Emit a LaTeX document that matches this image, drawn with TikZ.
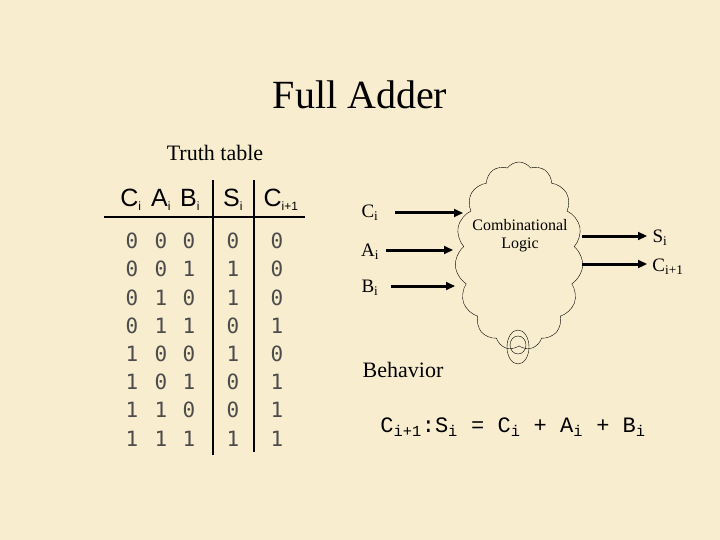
\documentclass[tikz,border=0pt]{standalone}
\usepackage{fontspec}
\setmainfont{Liberation Serif}
\newfontfamily\arial{Liberation Sans}
\newfontfamily\mono{DejaVu Sans Mono}
\newfontfamily\cour{Liberation Mono}
\usetikzlibrary{shapes.symbols,arrows.meta}
\definecolor{bg}{HTML}{F8EDCF}
\begin{document}
\begin{tikzpicture}[x=1pt,y=-1pt,
  dig/.style={font=\mono\fontsize{21}{21}\selectfont, text=black!70},
  hdr/.style={font=\arial\fontsize{25}{25}\selectfont},
  lbl/.style={font=\fontsize{19}{19}\selectfont},
  arr/.style={-{Triangle[length=9pt,width=8pt]}, line width=3pt}]
\fill[bg] (0,0) rectangle (720,540);
\useasboundingbox (0,0) rectangle (720,540);
\node[font=\fontsize{40}{40}\selectfont] (title) at (360,95) {Full Adder};
\node[font=\fontsize{22}{22}\selectfont] (tt) at (215,153) {Truth table};
% table header
\node[hdr] (hc) at (131,200) {C\textsubscript{\fontsize{12}{12}\selectfont i}};
\node[hdr] (ha) at (161,200) {A\textsubscript{\fontsize{12}{12}\selectfont i}};
\node[hdr] (hb) at (190,200) {B\textsubscript{\fontsize{12}{12}\selectfont i}};
\node[hdr] (hs) at (233,200) {S\textsubscript{\fontsize{12}{12}\selectfont i}};
\node[hdr] (hc1) at (281,200) {C\textsubscript{\fontsize{12}{12}\selectfont i+1}};
\draw[line width=2.5pt] (104,217) -- (305,217);
\draw[line width=2.5pt] (213,180) -- (213,455);
\draw[line width=1.8pt] (254,180) -- (254,452);
\foreach \r/\a/\b/\c/\s [count=\k from 0] in {0/0/0/0/0,0/0/1/1/0,0/1/0/1/0,0/1/1/0/1,1/0/0/1/0,1/0/1/0/1,1/1/0/0/1,1/1/1/1/1}{
  \pgfmathsetmacro{\yy}{241+28.2*\k}
  \node[dig] (r\k a) at (132,\yy) {\r};
  \node[dig] (r\k b) at (161,\yy) {\a};
  \node[dig] (r\k c) at (189,\yy) {\b};
  \node[dig] (r\k d) at (233,\yy) {\c};
  \node[dig] (r\k e) at (277,\yy) {\s};
}
% cloud
\node[cloud, draw, cloud puffs=15, cloud puff arc=110, aspect=0.7, minimum width=128pt, minimum height=188pt, line width=0.4pt, inner sep=0pt] (cld) at (519,256) {};
\node[font=\fontsize{16}{18}\selectfont, align=center] (cl) at (520,236) {Combinational\\Logic};
\draw[line width=0.4pt] (518,345) ellipse (8pt and 9pt);
\draw[line width=0.4pt] (518,347) ellipse (11pt and 17pt);
% inputs
\node[lbl] (ci) at (370,213) {C\textsubscript{i}};
\node[lbl] (ai) at (370,252) {A\textsubscript{i}};
\node[lbl] (bi) at (370,288) {B\textsubscript{i}};
\coordinate (ci0) at (395,213); \coordinate (ci1) at (463,213);
\coordinate (ai0) at (386,250); \coordinate (ai1) at (453,250);
\coordinate (bi0) at (391,286); \coordinate (bi1) at (455,286);
\draw[arr] (ci0) -- (ci1);
\draw[arr] (ai0) -- (ai1);
\draw[arr] (bi0) -- (bi1);
\node[lbl] (si) at (660,238) {S\textsubscript{i}};
\node[lbl] (co) at (668,267) {C\textsubscript{i+1}};
\coordinate (s0) at (582,236); \coordinate (s1) at (647,236);
\coordinate (c0) at (582,264); \coordinate (c1) at (647,264);
\draw[arr] (s0) -- (s1);
\draw[arr] (c0) -- (c1);
\node[font=\fontsize{22}{22}\selectfont] (beh) at (403,370) {Behavior};
\node[font=\cour\fontsize{22}{22}\selectfont] (eq) at (513,427) {C\textsubscript{i+1}:S\textsubscript{i} = C\textsubscript{i} + A\textsubscript{i} + B\textsubscript{i}};
\end{tikzpicture}
\end{document}
